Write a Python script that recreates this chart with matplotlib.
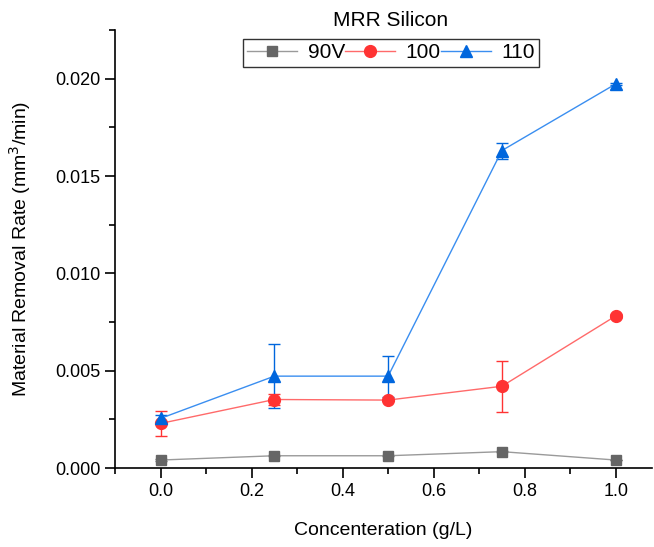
import numpy as np
import matplotlib.pyplot as plt
from matplotlib.lines import Line2D
from matplotlib.ticker import MultipleLocator

plt.rcParams['font.family'] = ['Liberation Sans', 'DejaVu Sans']

conc = [0.0, 0.25, 0.5, 0.75, 1.0]

mrr_90 = [0.00041, 0.00063, 0.00063, 0.00084, 0.00041]
err_90 = [0.00003, 0.00003, 0.00003, 0.00004, 0.00002]

mrr_100 = [0.00229, 0.00352, 0.00349, 0.00420, 0.00781]
err_100 = [0.00065, 0.00030, 0.00005, 0.00130, 0.00010]

mrr_110 = [0.00255, 0.00472, 0.00472, 0.01631, 0.01973]
err_110 = [0.00017, 0.00166, 0.00106, 0.00041, 0.00005]

labels = ['90V', '100', '110']

fig = plt.figure(figsize=(6.54, 5.47), dpi=100)
ax = fig.add_axes([0.176, 0.1444, 0.821, 0.8006])

styles = [
    dict(color='#9a9a9a', marker='s', ms=7.5, mfc='#666666', mec='#666666'),
    dict(color='#ff6a6a', marker='o', ms=8.5, mfc='#ff3333', mec='#ff3333'),
    dict(color='#3a8ef0', marker='^', ms=9, mfc='#0066dd', mec='#0066dd'),
]
series = [(mrr_90, err_90), (mrr_100, err_100), (mrr_110, err_110)]

for (y, e), st, lab in zip(series, styles, labels):
    ax.errorbar(conc, y, yerr=e, lw=1, ecolor=st['mec'], capsize=4,
                elinewidth=1, capthick=1, label=lab, **st)

ax.set_xlim(-0.1, 1.08)
ax.set_ylim(0, 0.0225)
ax.xaxis.set_major_locator(MultipleLocator(0.2))
ax.xaxis.set_minor_locator(MultipleLocator(0.1))
ax.yaxis.set_major_locator(MultipleLocator(0.005))
ax.yaxis.set_minor_locator(MultipleLocator(0.0025))
ax.xaxis.set_major_formatter(plt.FormatStrFormatter('%.1f'))
ax.yaxis.set_major_formatter(plt.FormatStrFormatter('%.3f'))
ax.tick_params(which='major', length=7, width=1.2, labelsize=13)
ax.tick_params(which='minor', length=4, width=1.2)

for s in ['top', 'right']:
    ax.spines[s].set_visible(False)
for s in ['left', 'bottom']:
    ax.spines[s].set_linewidth(1.2)

ax.set_xlabel('Concenteration (g/L)', fontsize=14, labelpad=16)
ax.set_ylabel('Material Removal Rate (mm$^3$/min)', fontsize=14, labelpad=16)

# legend: plain line+marker handles in a box, title sitting above the box
handles = [Line2D([], [], lw=1, **st) for st in styles]
leg = fig.legend(handles, labels, ncol=3, loc='center',
                 bbox_to_anchor=(391 / 654, 1 - 53 / 547),
                 fontsize=15, frameon=True, fancybox=False, edgecolor='black',
                 columnspacing=0.0, handletextpad=0.5, handlelength=2.4,
                 borderpad=0.2, borderaxespad=0)
leg.get_frame().set_linewidth(1.0)
fig.text(391 / 654, 1 - 20 / 547, 'MRR Silicon', fontsize=15,
         ha='center', va='center')

fig.savefig('out.png', dpi=100)
